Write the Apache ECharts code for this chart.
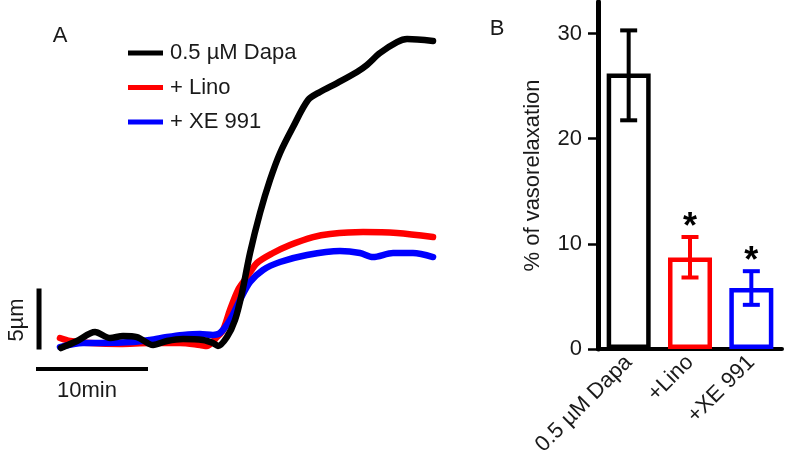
<!DOCTYPE html>
<html><head><meta charset="utf-8">
<script src="https://cdn.jsdelivr.net/npm/echarts@6/dist/echarts.min.js"></script>
<style>html,body{margin:0;padding:0;background:#fff}#c{width:790px;height:465px}</style>
</head><body><div id="c"></div>
<script>
// ---- Panel A: diameter traces (time in min, diameter change in µm) ----
const traceNames = ['0.5 µM Dapa', '+ Lino', '+ XE 991'];
const traceColors = ['#000000', '#ff0000', '#0000ff'];
const dapaTrace = [[2.23,2.62],[3.66,3.20],[5.27,3.93],[6.61,3.44],[7.77,3.61],[9.02,3.52],[10.45,2.87],[11.70,3.20],[13.13,3.36],[14.91,3.28],[15.80,3.03],[16.25,2.79],[17.05,3.52],[17.77,4.92],[18.39,7.13],[19.11,10.41],[20.00,13.69],[20.89,16.39],[21.79,18.61],[22.95,20.74],[24.29,22.95],[25.36,23.61],[26.88,24.34],[28.66,25.25],[29.55,25.82],[30.71,26.80],[32.23,27.70],[33.13,27.95],[35.45,27.79]];
const linoTrace = [[2.14,3.44],[3.04,3.20],[4.82,3.03],[7.50,2.95],[10.18,3.03],[12.86,3.03],[14.64,2.87],[15.27,2.79],[16.16,3.52],[16.70,4.10],[17.32,5.74],[18.04,7.38],[18.84,8.44],[19.73,9.59],[21.16,10.41],[22.68,11.07],[24.73,11.72],[26.25,11.97],[29.20,12.13],[32.23,12.05],[35.45,11.72]];
const xeTrace = [[2.14,2.70],[4.20,3.03],[5.71,3.03],[8.66,3.11],[10.18,3.28],[11.70,3.52],[13.13,3.69],[14.64,3.77],[15.80,3.69],[16.43,3.85],[17.32,4.92],[18.21,6.56],[19.11,8.03],[20.27,9.02],[21.79,9.67],[24.20,10.25],[27.14,10.57],[28.93,10.41],[30.09,10.08],[31.88,10.41],[33.66,10.41],[35.45,10.08]];
const scaleTimeMin = 10;   // horizontal scale bar length (min)
const scaleLenUm = 5;      // vertical scale bar length (µm)

// ---- Panel B: % of vasorelaxation ----
const barCategories = ['0.5 µM Dapa', '+Lino', '+XE 991'];
const barMeans = [26.2, 8.7, 5.8];
const errUpper = [30.3, 10.65, 7.4];
const errLower = [21.75, 6.8, 4.2];
const sigMarks = ['', '*', '*'];
const yTicksB = [0, 10, 20, 30];

const FONT = "'Liberation Sans', Arial, sans-serif";
const TXT = '#1a1a1a';

// scale bar anchor (in panel A data units)
const sbX0 = 0, sbY0 = 0.9, sbVX = 0.27, sbVY0 = 2.5;

const chart = echarts.init(document.getElementById('c'), null, {renderer: 'canvas'});
const traceSeries = [
  {name: traceNames[1], data: linoTrace, color: traceColors[1], z: 2},
  {name: traceNames[2], data: xeTrace, color: traceColors[2], z: 3},
  {name: traceNames[0], data: dapaTrace, color: traceColors[0], z: 4}
].map(s => ({
  type: 'line', name: s.name, data: s.data, xAxisIndex: 0, yAxisIndex: 0,
  showSymbol: false, smooth: 0.3, z: s.z, itemStyle: {color: s.color},
  lineStyle: {color: s.color, width: 6.5, cap: 'round', join: 'round'}
}));

chart.setOption({
  animation: false,
  textStyle: {fontFamily: FONT},
  grid: [
    {left: 36, top: 14, width: 420, height: 366},
    {left: 598, top: 2, width: 184, height: 347}
  ],
  legend: {
    data: traceNames, orient: 'vertical', left: 128, top: 41, padding: 0,
    icon: 'rect', itemWidth: 35, itemHeight: 5, itemGap: 10.5,
    selectedMode: false,
    textStyle: {fontSize: 22, color: TXT, lineHeight: 24, padding: [0, 0, 0, 2], fontFamily: FONT}
  },
  xAxis: [
    {gridIndex: 0, type: 'value', min: 0, max: 37.5, show: false},
    {gridIndex: 1, type: 'category', data: barCategories,
     axisLine: {lineStyle: {color: '#000', width: 4}},
     axisTick: {alignWithLabel: true, length: 6, lineStyle: {color: '#000', width: 4}},
     axisLabel: {rotate: 45, fontSize: 22, color: TXT, margin: 10, interval: 0, fontFamily: FONT}}
  ],
  yAxis: [
    {gridIndex: 0, type: 'value', min: 0, max: 30, show: false},
    {gridIndex: 1, type: 'value', min: 0, max: 33,
     axisLine: {show: true, lineStyle: {color: '#000', width: 5}},
     axisTick: {show: true, length: 10, customValues: yTicksB, lineStyle: {color: '#000', width: 2.5}},
     axisLabel: {customValues: yTicksB, fontSize: 22, color: TXT, margin: 16, fontFamily: FONT},
     splitLine: {show: false},
     name: '% of vasorelaxation', nameLocation: 'middle', nameGap: 54,
     nameTextStyle: {fontSize: 22, color: TXT, fontFamily: FONT}}
  ],
  series: [
    ...traceSeries,
    {type: 'line', xAxisIndex: 0, yAxisIndex: 0, showSymbol: false, silent: true,
     data: [[sbX0, sbY0], [sbX0 + scaleTimeMin, sbY0]], lineStyle: {color: '#000', width: 4}},
    {type: 'line', xAxisIndex: 0, yAxisIndex: 0, showSymbol: false, silent: true,
     data: [[sbVX, sbVY0], [sbVX, sbVY0 + scaleLenUm]], lineStyle: {color: '#000', width: 5}},
    {type: 'bar', xAxisIndex: 1, yAxisIndex: 1, barWidth: 44,
     data: barMeans.map((v, i) => ({value: v, itemStyle: {color: '#fff', borderColor: traceColors[i], borderWidth: 4.5}}))},
    {type: 'custom', xAxisIndex: 1, yAxisIndex: 1, z: 5,
     data: barCategories.map((c, i) => [i, errLower[i], errUpper[i]]),
     renderItem: function (params, api) {
       const i = params.dataIndex;
       const hi = api.coord([api.value(0), api.value(2)]);
       const lo = api.coord([api.value(0), api.value(1)]);
       const cap = 8.5, col = traceColors[i];
       const st = {stroke: col, lineWidth: 4};
       const children = [
         {type: 'line', shape: {x1: hi[0], y1: hi[1], x2: lo[0], y2: lo[1]}, style: st},
         {type: 'line', shape: {x1: hi[0] - cap, y1: hi[1], x2: hi[0] + cap, y2: hi[1]}, style: st},
         {type: 'line', shape: {x1: lo[0] - cap, y1: lo[1], x2: lo[0] + cap, y2: lo[1]}, style: st}
       ];
       if (sigMarks[i]) {
         children.push({type: 'text', x: hi[0], y: hi[1] + 9,
           style: {text: sigMarks[i], fontSize: 36, fontWeight: 'bold', fill: '#000',
                   align: 'center', verticalAlign: 'bottom', fontFamily: FONT}});
       }
       return {type: 'group', children: children};
     }}
  ],
  graphic: [
    {type: 'text', x: 60, y: 36, style: {text: 'A', fontSize: 22, fill: TXT, align: 'center', verticalAlign: 'middle', fontFamily: FONT}},
    {type: 'text', x: 497, y: 29, style: {text: 'B', fontSize: 22, fill: TXT, align: 'center', verticalAlign: 'middle', fontFamily: FONT}},
    {type: 'text', x: 17, y: 320, rotation: Math.PI / 2, style: {text: '5µm', fontSize: 22, fill: TXT, align: 'center', verticalAlign: 'middle', fontFamily: FONT}},
    {type: 'text', x: 87, y: 391, style: {text: '10min', fontSize: 22, fill: TXT, align: 'center', verticalAlign: 'middle', fontFamily: FONT}}
  ]
});
</script></body></html>
